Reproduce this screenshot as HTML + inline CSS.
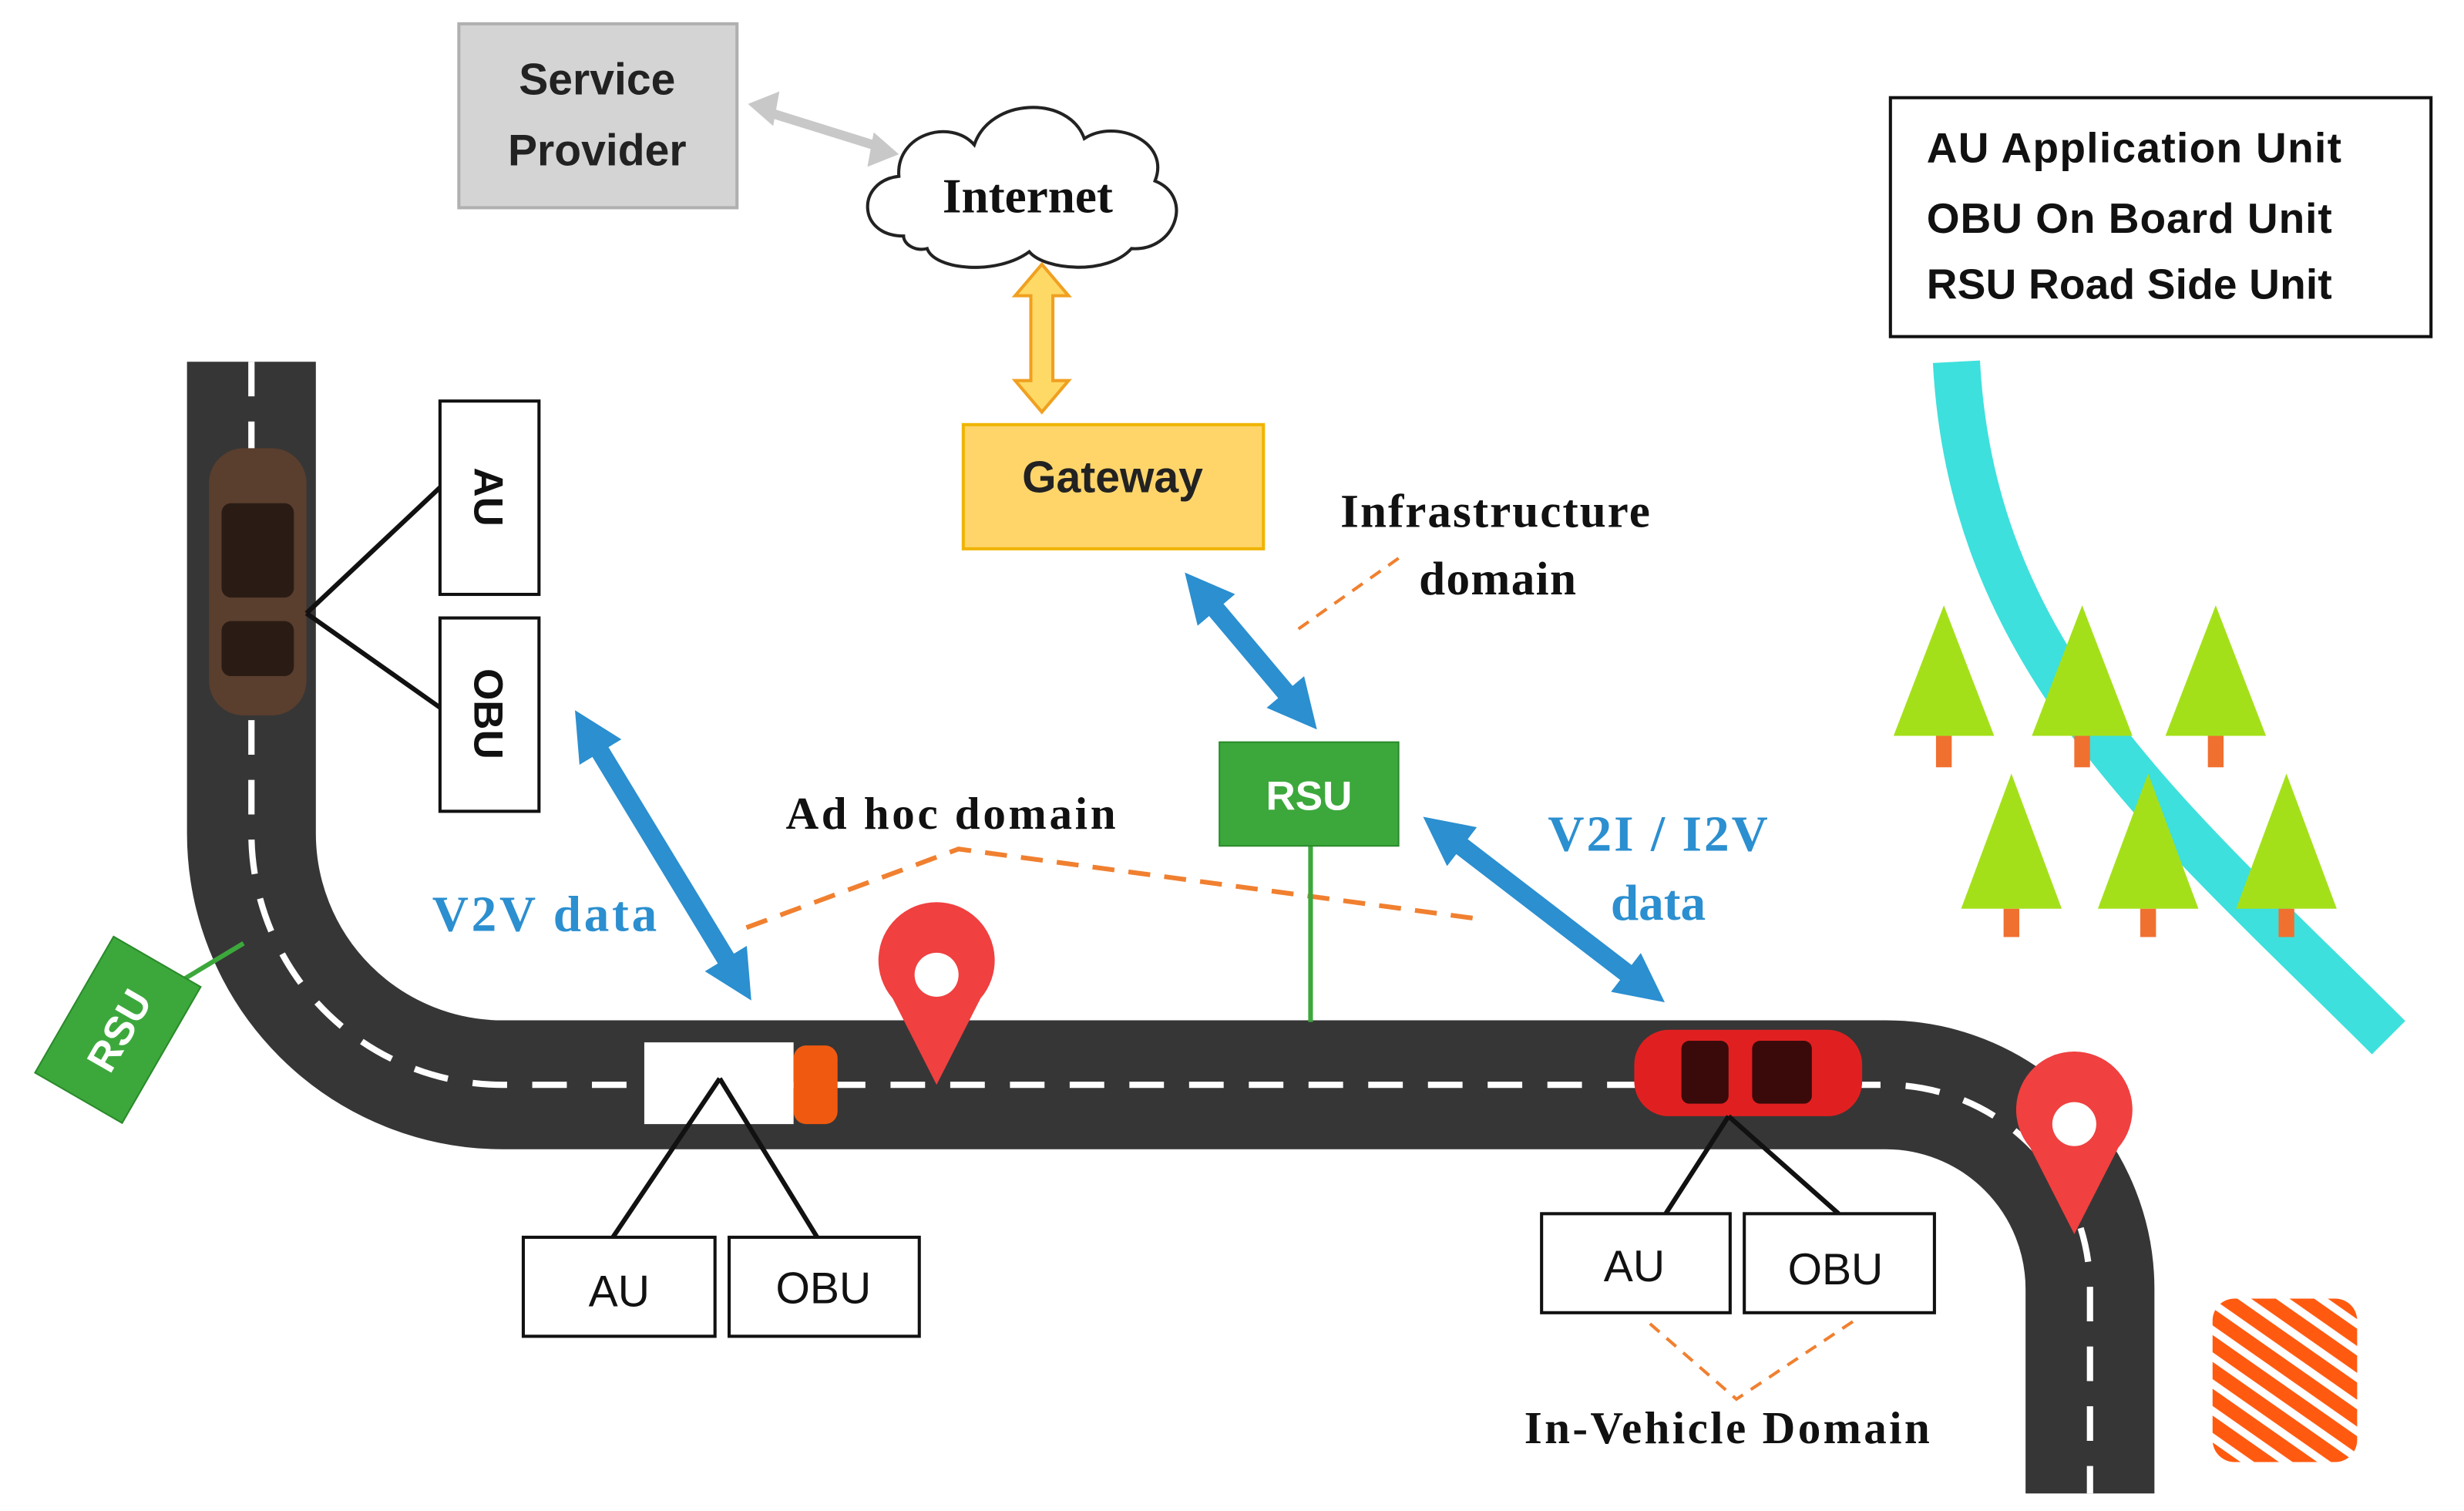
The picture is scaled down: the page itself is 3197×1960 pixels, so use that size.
<!DOCTYPE html>
<html><head><meta charset="utf-8"><style>
html,body{margin:0;padding:0;background:#fff;}
svg{display:block}
text{font-family:"Liberation Sans",sans-serif;}
.serif{font-family:"Liberation Serif",serif;font-weight:bold;}
</style></head><body>
<svg width="3197" height="1960" viewBox="0 0 1568 961" xmlns="http://www.w3.org/2000/svg">
<defs>
<marker id="bh" viewBox="0 0 10 10" refX="5" refY="5" markerWidth="2.6" markerHeight="2.6" orient="auto-start-reverse"><path d="M0,0L10,5L0,10z" fill="#2b8fd0"/></marker>
<pattern id="stripe" width="14" height="14" patternUnits="userSpaceOnUse" patternTransform="rotate(-55)"><rect width="14" height="14" fill="#ff5a10"/><rect width="5" height="14" fill="#fff"/></pattern>
</defs>
<rect width="1568" height="961" fill="#fff"/>
<path d="M1245,230 C1255,420 1380,520 1520,660" fill="none" stroke="#3de0dc" stroke-width="30"/>
<g fill="#a4e01a">
<polygon points="1237,385 1205,468 1269,468"/><polygon points="1325,385 1293,468 1357,468"/><polygon points="1410,385 1378,468 1442,468"/>
<polygon points="1280,492 1248,578 1312,578"/><polygon points="1367,492 1335,578 1399,578"/><polygon points="1455,492 1423,578 1487,578"/>
</g>
<g fill="#f07030">
<rect x="1232" y="468" width="10" height="20"/><rect x="1320" y="468" width="10" height="20"/><rect x="1405" y="468" width="10" height="20"/>
<rect x="1275" y="578" width="10" height="18"/><rect x="1362" y="578" width="10" height="18"/><rect x="1450" y="578" width="10" height="18"/>
</g>
<path d="M160,230 V530 A160,160 0 0 0 320,690 H1200 A130,130 0 0 1 1330,820 V950" fill="none" stroke="#363636" stroke-width="82"/>
<path d="M160,230 V530 A160,160 0 0 0 320,690 H1200 A130,130 0 0 1 1330,820 V950" fill="none" stroke="#fff" stroke-width="4" stroke-dasharray="22,16"/>
<rect x="1408" y="826" width="92" height="104" rx="14" fill="url(#stripe)"/>
<rect x="133" y="285" width="62" height="170" rx="22" fill="#5a3e2e"/>
<rect x="141" y="320" width="46" height="60" rx="6" fill="#2a1c14"/>
<rect x="141" y="395" width="46" height="35" rx="6" fill="#2a1c14"/>
<rect x="292" y="15" width="177" height="117" fill="#d4d4d4" stroke="#b0b0b0" stroke-width="2"/>
<text x="380" y="60" font-size="28" font-weight="bold" text-anchor="middle" fill="#222">Service</text>
<text x="380" y="105" font-size="28" font-weight="bold" text-anchor="middle" fill="#222">Provider</text>
<line x1="485" y1="70" x2="562" y2="94" stroke="#c8c8c8" stroke-width="6"/>
<polygon points="476,66 496,58 492,80" fill="#c8c8c8"/><polygon points="572,98 552,106 556,84" fill="#c8c8c8"/>
<path d="M575,150 C545,150 545,115 572,112 C570,85 605,75 620,92 C630,62 680,60 690,88 C710,75 745,90 735,115 C760,125 748,160 720,158 C705,175 665,172 655,160 C635,175 595,172 590,158 C582,160 575,155 575,150 Z" fill="#fff" stroke="#222" stroke-width="2"/>
<text x="654" y="135" class="serif" font-size="31" text-anchor="middle" fill="#111">Internet</text>
<polygon points="663,168 680,188 670,188 670,242 680,242 663,262 646,242 656,242 656,188 646,188" fill="#ffd966" stroke="#f0a020" stroke-width="2"/>
<rect x="613" y="270" width="191" height="79" fill="#ffd56a" stroke="#f0b400" stroke-width="2"/>
<text x="708" y="313" font-size="28" font-weight="bold" text-anchor="middle" fill="#222">Gateway</text>
<rect x="1203" y="62" width="344" height="152" fill="#fff" stroke="#111" stroke-width="2"/>
<text x="1226" y="103" font-size="27" font-weight="bold" fill="#111" textLength="264">AU Application Unit</text>
<text x="1226" y="148" font-size="27" font-weight="bold" fill="#111" textLength="258">OBU On Board Unit</text>
<text x="1226" y="190" font-size="27" font-weight="bold" fill="#111" textLength="258">RSU Road Side Unit</text>
<line x1="195" y1="390" x2="280" y2="310" stroke="#111" stroke-width="3"/>
<line x1="195" y1="390" x2="280" y2="450" stroke="#111" stroke-width="3"/>
<rect x="280" y="255" width="63" height="123" fill="#fff" stroke="#111" stroke-width="2"/>
<rect x="280" y="393" width="63" height="123" fill="#fff" stroke="#111" stroke-width="2"/>
<text transform="translate(302,316) rotate(90)" font-size="26" font-weight="bold" text-anchor="middle" fill="#111">AU</text>
<text transform="translate(302,454) rotate(90)" font-size="26" font-weight="bold" text-anchor="middle" fill="#111">OBU</text>
<line x1="105" y1="630" x2="155" y2="600" stroke="#3ca83c" stroke-width="3"/>
<g transform="translate(75,655) rotate(-60)"><rect x="-50" y="-32" width="100" height="64" fill="#3ca83c" stroke="#2a8a2a"/><text x="0" y="10" font-size="26" font-weight="bold" fill="#fff" text-anchor="middle">RSU</text></g>
<line x1="374" y1="465" x2="470" y2="623" stroke="#2b8fd0" stroke-width="12" marker-start="url(#bh)" marker-end="url(#bh)"/>
<line x1="764" y1="376" x2="828" y2="452" stroke="#2b8fd0" stroke-width="12" marker-start="url(#bh)" marker-end="url(#bh)"/>
<line x1="918" y1="529" x2="1047" y2="628" stroke="#2b8fd0" stroke-width="12" marker-start="url(#bh)" marker-end="url(#bh)"/>
<text x="275" y="592" class="serif" font-size="32" fill="#2b8fd0" textLength="143">V2V data</text>
<text x="985" y="541" class="serif" font-size="32" fill="#2b8fd0" textLength="140">V2I / I2V</text>
<text x="1025" y="585" class="serif" font-size="32" fill="#2b8fd0">data</text>
<text x="500" y="527" class="serif" font-size="29" fill="#111" textLength="210">Ad hoc domain</text>
<polyline points="475,590 610,540 945,585" fill="none" stroke="#f08030" stroke-width="3" stroke-dasharray="14,9"/>
<text x="853" y="335" class="serif" font-size="30" fill="#111" textLength="197">Infrastructure</text>
<text x="903" y="378" class="serif" font-size="30" fill="#111" textLength="100">domain</text>
<line x1="890" y1="355" x2="822" y2="403" stroke="#f08030" stroke-width="2" stroke-dasharray="8,6"/>
<line x1="834" y1="538" x2="834" y2="650" stroke="#3ca83c" stroke-width="3"/>
<rect x="776" y="472" width="114" height="66" fill="#3ca83c" stroke="#2a8a2a"/>
<text x="833" y="515" font-size="26" font-weight="bold" fill="#fff" text-anchor="middle">RSU</text>
<rect x="410" y="663" width="95" height="52" fill="#fff"/>
<rect x="505" y="665" width="28" height="50" rx="8" fill="#f05a10"/>
<line x1="458" y1="686" x2="390" y2="787" stroke="#111" stroke-width="3"/>
<line x1="458" y1="686" x2="520" y2="787" stroke="#111" stroke-width="3"/>
<rect x="333" y="787" width="122" height="63" fill="#fff" stroke="#111" stroke-width="2"/>
<rect x="464" y="787" width="121" height="63" fill="#fff" stroke="#111" stroke-width="2"/>
<text x="394" y="831" font-size="28" text-anchor="middle" fill="#111">AU</text>
<text x="524" y="829" font-size="28" text-anchor="middle" fill="#111">OBU</text>
<path d="M596,690 L568,635 A37,37 0 1 1 624,635 Z" fill="#f04040"/><circle cx="596" cy="620" r="14" fill="#fff"/>
<path d="M1320,785 L1292,730 A37,37 0 1 1 1348,730 Z" fill="#f04040"/><circle cx="1320" cy="715" r="14" fill="#fff"/>
<rect x="1040" y="655" width="145" height="55" rx="22" fill="#e02020"/>
<rect x="1070" y="662" width="30" height="40" rx="5" fill="#3a0a0a"/>
<rect x="1115" y="662" width="38" height="40" rx="5" fill="#3a0a0a"/>
<line x1="1100" y1="710" x2="1060" y2="772" stroke="#111" stroke-width="3"/>
<line x1="1100" y1="710" x2="1170" y2="772" stroke="#111" stroke-width="3"/>
<rect x="981" y="772" width="120" height="63" fill="#fff" stroke="#111" stroke-width="2"/>
<rect x="1110" y="772" width="121" height="63" fill="#fff" stroke="#111" stroke-width="2"/>
<text x="1040" y="815" font-size="28" text-anchor="middle" fill="#111">AU</text>
<text x="1168" y="817" font-size="28" text-anchor="middle" fill="#111">OBU</text>
<polyline points="1050,842 1105,890 1180,840" fill="none" stroke="#f08030" stroke-width="2" stroke-dasharray="8,6"/>
<text x="970" y="918" class="serif" font-size="29" fill="#111" textLength="258">In-Vehicle Domain</text>
</svg>
</body></html>
